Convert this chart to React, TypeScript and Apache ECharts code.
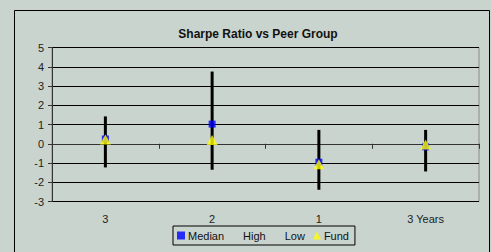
import React, { useEffect, useRef } from "react";
import * as echarts from "echarts";

const categories = ["3", "2", "1", "3 Years"];
const highValues = [1.42, 3.75, 0.72, 0.72];
const lowValues = [-1.23, -1.35, -2.39, -1.44];
const medianValues = [0.25, 1.02, -0.96, -0.16];
const fundValues = [0.22, 0.2, -1.07, -0.04];
const yTicks = { min: -3, max: 5, interval: 1 };

export default function App() {
  const ref = useRef<HTMLDivElement>(null);
  useEffect(() => {
    if (!ref.current) return;
    const chart = echarts.init(ref.current, null, { renderer: "svg" });
    const font = "'Liberation Sans', Arial, sans-serif";
    chart.setOption({
      animation: false,
      backgroundColor: "#c9d4ce",
      textStyle: { fontFamily: font },
      title: {
        text: "Sharpe Ratio vs Peer Group",
        left: 253,
        textAlign: "center",
        top: 23,
        textStyle: { fontSize: 12, fontWeight: "bold", color: "#111", fontFamily: font },
      },
      graphic: [
        {
          type: "rect",
          shape: { x: 14.5, y: 10.5, width: 475, height: 260 },
          style: { fill: "none", stroke: "#000", lineWidth: 1 },
          silent: true,
        },
      ],
      grid: { left: 52, top: 47.5, right: 12, bottom: 50.5, show: true, borderColor: "#8a8a8a", borderWidth: 1, backgroundColor: "transparent" },
      legend: {
        left: 173,
        top: 226,
        width: 180,
        padding: [4, 6, 4, 4],
        borderColor: "#000",
        borderWidth: 1,
        itemGap: 8,
        itemWidth: 8,
        itemHeight: 8,
        textStyle: { fontSize: 11, color: "#111", fontFamily: font, padding: [0, 0, 0, -2] },
        data: [
          { name: "Median", icon: "rect" },
          { name: "High", icon: "none" },
          { name: "Low", icon: "none" },
          { name: "Fund", icon: "triangle" },
        ],
      },
      xAxis: {
        type: "category",
        data: categories,
        boundaryGap: true,
        axisLine: { lineStyle: { color: "#333", width: 1 } },
        axisTick: { show: true, length: 5, lineStyle: { color: "#333" } },
        axisLabel: { fontSize: 11, color: "#222", margin: 12, fontFamily: font },
        splitLine: { show: false },
      },
      yAxis: {
        type: "value",
        min: yTicks.min,
        max: yTicks.max,
        interval: yTicks.interval,
        axisLine: { show: true, lineStyle: { color: "#333", width: 1 } },
        axisTick: { show: true, length: 4, lineStyle: { color: "#333" } },
        axisLabel: { fontSize: 11, color: "#222", margin: 8, fontFamily: font },
        splitLine: { show: true, lineStyle: { color: "#000", width: 1 } },
      },
      series: [
        {
          name: "range",
          type: "custom",
          data: categories.map((_, i) => [i, highValues[i], lowValues[i]]),
          renderItem: (params: any, api: any) => {
            const p1 = api.coord([api.value(0), api.value(1)]);
            const p2 = api.coord([api.value(0), api.value(2)]);
            return {
              type: "line",
              shape: { x1: p1[0], y1: p1[1], x2: p2[0], y2: p2[1] },
              style: { stroke: "#000", lineWidth: 3 },
            };
          },
          z: 2,
        },
        { name: "High", type: "scatter", symbol: "none", data: highValues, itemStyle: { color: "#000" } },
        { name: "Low", type: "scatter", symbol: "none", data: lowValues, itemStyle: { color: "#000" } },
        {
          name: "Median",
          type: "scatter",
          symbol: "rect",
          symbolSize: 7,
          data: medianValues,
          itemStyle: { color: "#0000ff" },
          z: 3,
        },
        {
          name: "Fund",
          type: "scatter",
          symbol: "triangle",
          symbolSize: [11, 10],
          data: fundValues,
          itemStyle: { color: "#ffff00" },
          z: 4,
        },
      ],
    });
    return () => chart.dispose();
  }, []);
  return <div ref={ref} style={{ position: "fixed", left: 0, top: 0, width: 491, height: 252 }} />;
}
